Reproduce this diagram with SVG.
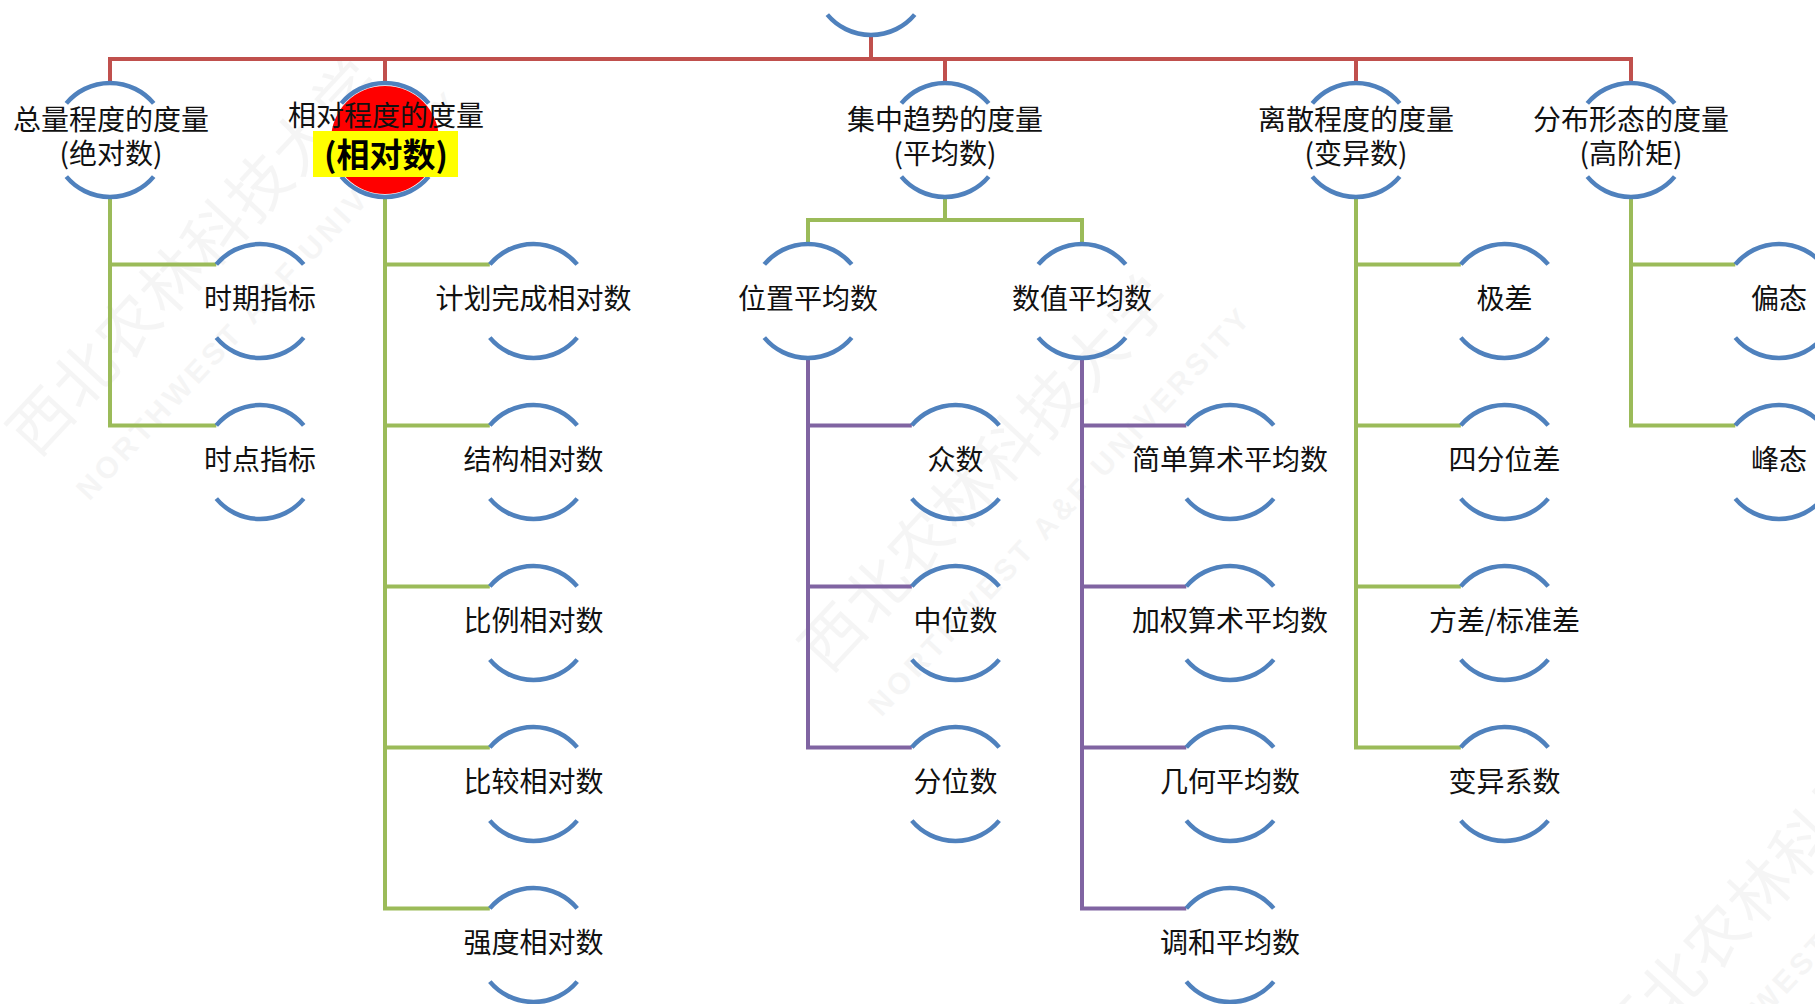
<svg xmlns="http://www.w3.org/2000/svg" xmlns:xlink="http://www.w3.org/1999/xlink" width="1815" height="1004" viewBox="0 0 1815 1004">
<style>
.wm{fill:#000;opacity:0.035;font-family:'Noto Sans CJK SC','Noto Sans',sans-serif;}
.wmc{font-size:62px;letter-spacing:2px;}
.wme{font-family:'Liberation Sans',Arial,sans-serif;font-weight:bold;font-size:30px;letter-spacing:4px;}
.arc{fill:none;stroke:#4F81BD;stroke-width:4.5;}
.c{fill:none;stroke-width:4;stroke-linejoin:miter;}
.red{stroke:#C0504D;}
.grn{stroke:#9BBB59;}
.pur{stroke:#8064A2;}
text.l{font-family:'Noto Sans CJK SC','Noto Sans',sans-serif;font-size:28px;fill:#111;text-anchor:middle;}
text.b{font-weight:bold;font-size:33px;fill:#000;}
</style>
<defs>
<path id="nd" class="arc" d="M-43.7 -36.6 A57 57 0 0 1 43.7 -36.6 M-43.7 36.6 A57 57 0 0 0 43.7 36.6"/>
</defs>
<rect width="1815" height="1004" fill="#fff"/>
<g id="watermark">
<g class="wm" transform="translate(36,459) rotate(-47)"><text class="wmc" x="0" y="0">西北农林科技大学</text><text class="wme" x="5" y="68">NORTHWEST A&amp;F UNIVERSITY</text></g>
<g class="wm" transform="translate(828,675) rotate(-47)"><text class="wmc" x="0" y="0">西北农林科技大学</text><text class="wme" x="5" y="68">NORTHWEST A&amp;F UNIVERSITY</text></g>
<g class="wm" transform="translate(1624,1069) rotate(-47)"><text class="wmc" x="0" y="0">西北农林科技大学</text><text class="wme" x="5" y="68">NORTHWEST A&amp;F UNIVERSITY</text></g>
</g>
<g id="connectors">
<path class="c red" d="M871 35 V59"/>
<path class="c red" d="M110 83 V59 H1631 V83"/>
<path class="c red" d="M385 59 V83 M945 59 V83 M1356 59 V83"/>
<path class="c grn" d="M110 197 V425.4 H216.3 M110 264.4 H216.3"/>
<path class="c grn" d="M385 197 V908.4 H489.8 M385 264.4 H489.8 M385 425.4 H489.8 M385 586.4 H489.8 M385 747.4 H489.8"/>
<path class="c grn" d="M945 197 V220 M808 243 V220 H1082 V243"/>
<path class="c grn" d="M1356 197 V747.4 H1460.8 M1356 264.4 H1460.8 M1356 425.4 H1460.8 M1356 586.4 H1460.8"/>
<path class="c grn" d="M1631 197 V425.4 H1735.3 M1631 264.4 H1735.3"/>
<path class="c pur" d="M808 358 V747.4 H911.8 M808 425.4 H911.8 M808 586.4 H911.8"/>
<path class="c pur" d="M1082 358 V908.4 H1186.3 M1082 425.4 H1186.3 M1082 586.4 H1186.3 M1082 747.4 H1186.3"/>
</g>
<g id="n-root"><use xlink:href="#nd" x="871" y="-22"/></g>
<g id="n-total"><use xlink:href="#nd" x="110" y="140"/><text class="l" x="111" y="130">总量程度的度量</text><text class="l" x="111" y="164">(绝对数)</text></g>
<g id="n-relative"><circle cx="385" cy="140" r="54" fill="#FF0000"/><use xlink:href="#nd" x="385" y="140"/><rect x="313" y="131" width="145" height="46" fill="#FFFF00"/><text class="l" x="386" y="126">相对程度的度量</text><text class="l b" x="386" y="167">(相对数)</text></g>
<g id="n-central"><use xlink:href="#nd" x="945" y="140"/><text class="l" x="945" y="130">集中趋势的度量</text><text class="l" x="945" y="164">(平均数)</text></g>
<g id="n-dispersion"><use xlink:href="#nd" x="1356" y="140"/><text class="l" x="1356" y="130">离散程度的度量</text><text class="l" x="1356" y="164">(变异数)</text></g>
<g id="n-shape"><use xlink:href="#nd" x="1631" y="140"/><text class="l" x="1631" y="130">分布形态的度量</text><text class="l" x="1631" y="164">(高阶矩)</text></g>
<g id="n-period"><use xlink:href="#nd" x="260" y="301"/><text class="l" x="260" y="309">时期指标</text></g>
<g id="n-point"><use xlink:href="#nd" x="260" y="462"/><text class="l" x="260" y="470">时点指标</text></g>
<g id="n-plan"><use xlink:href="#nd" x="533.5" y="301"/><text class="l" x="533.5" y="309">计划完成相对数</text></g>
<g id="n-struct"><use xlink:href="#nd" x="533.5" y="462"/><text class="l" x="533.5" y="470">结构相对数</text></g>
<g id="n-ratio"><use xlink:href="#nd" x="533.5" y="623"/><text class="l" x="533.5" y="631">比例相对数</text></g>
<g id="n-compare"><use xlink:href="#nd" x="533.5" y="784"/><text class="l" x="533.5" y="792">比较相对数</text></g>
<g id="n-intensity"><use xlink:href="#nd" x="533.5" y="945"/><text class="l" x="533.5" y="953">强度相对数</text></g>
<g id="n-position"><use xlink:href="#nd" x="808" y="301"/><text class="l" x="808" y="309">位置平均数</text></g>
<g id="n-numeric"><use xlink:href="#nd" x="1082" y="301"/><text class="l" x="1082" y="309">数值平均数</text></g>
<g id="n-mode"><use xlink:href="#nd" x="955.5" y="462"/><text class="l" x="955.5" y="470">众数</text></g>
<g id="n-median"><use xlink:href="#nd" x="955.5" y="623"/><text class="l" x="955.5" y="631">中位数</text></g>
<g id="n-quantile"><use xlink:href="#nd" x="955.5" y="784"/><text class="l" x="955.5" y="792">分位数</text></g>
<g id="n-simple"><use xlink:href="#nd" x="1230" y="462"/><text class="l" x="1230" y="470">简单算术平均数</text></g>
<g id="n-weighted"><use xlink:href="#nd" x="1230" y="623"/><text class="l" x="1230" y="631">加权算术平均数</text></g>
<g id="n-geometric"><use xlink:href="#nd" x="1230" y="784"/><text class="l" x="1230" y="792">几何平均数</text></g>
<g id="n-harmonic"><use xlink:href="#nd" x="1230" y="945"/><text class="l" x="1230" y="953">调和平均数</text></g>
<g id="n-range"><use xlink:href="#nd" x="1504.5" y="301"/><text class="l" x="1504.5" y="309">极差</text></g>
<g id="n-iqr"><use xlink:href="#nd" x="1504.5" y="462"/><text class="l" x="1504.5" y="470">四分位差</text></g>
<g id="n-var"><use xlink:href="#nd" x="1504.5" y="623"/><text class="l" x="1504.5" y="631">方差/标准差</text></g>
<g id="n-cv"><use xlink:href="#nd" x="1504.5" y="784"/><text class="l" x="1504.5" y="792">变异系数</text></g>
<g id="n-skew"><use xlink:href="#nd" x="1779" y="301"/><text class="l" x="1779" y="309">偏态</text></g>
<g id="n-kurt"><use xlink:href="#nd" x="1779" y="462"/><text class="l" x="1779" y="470">峰态</text></g>
</svg>
